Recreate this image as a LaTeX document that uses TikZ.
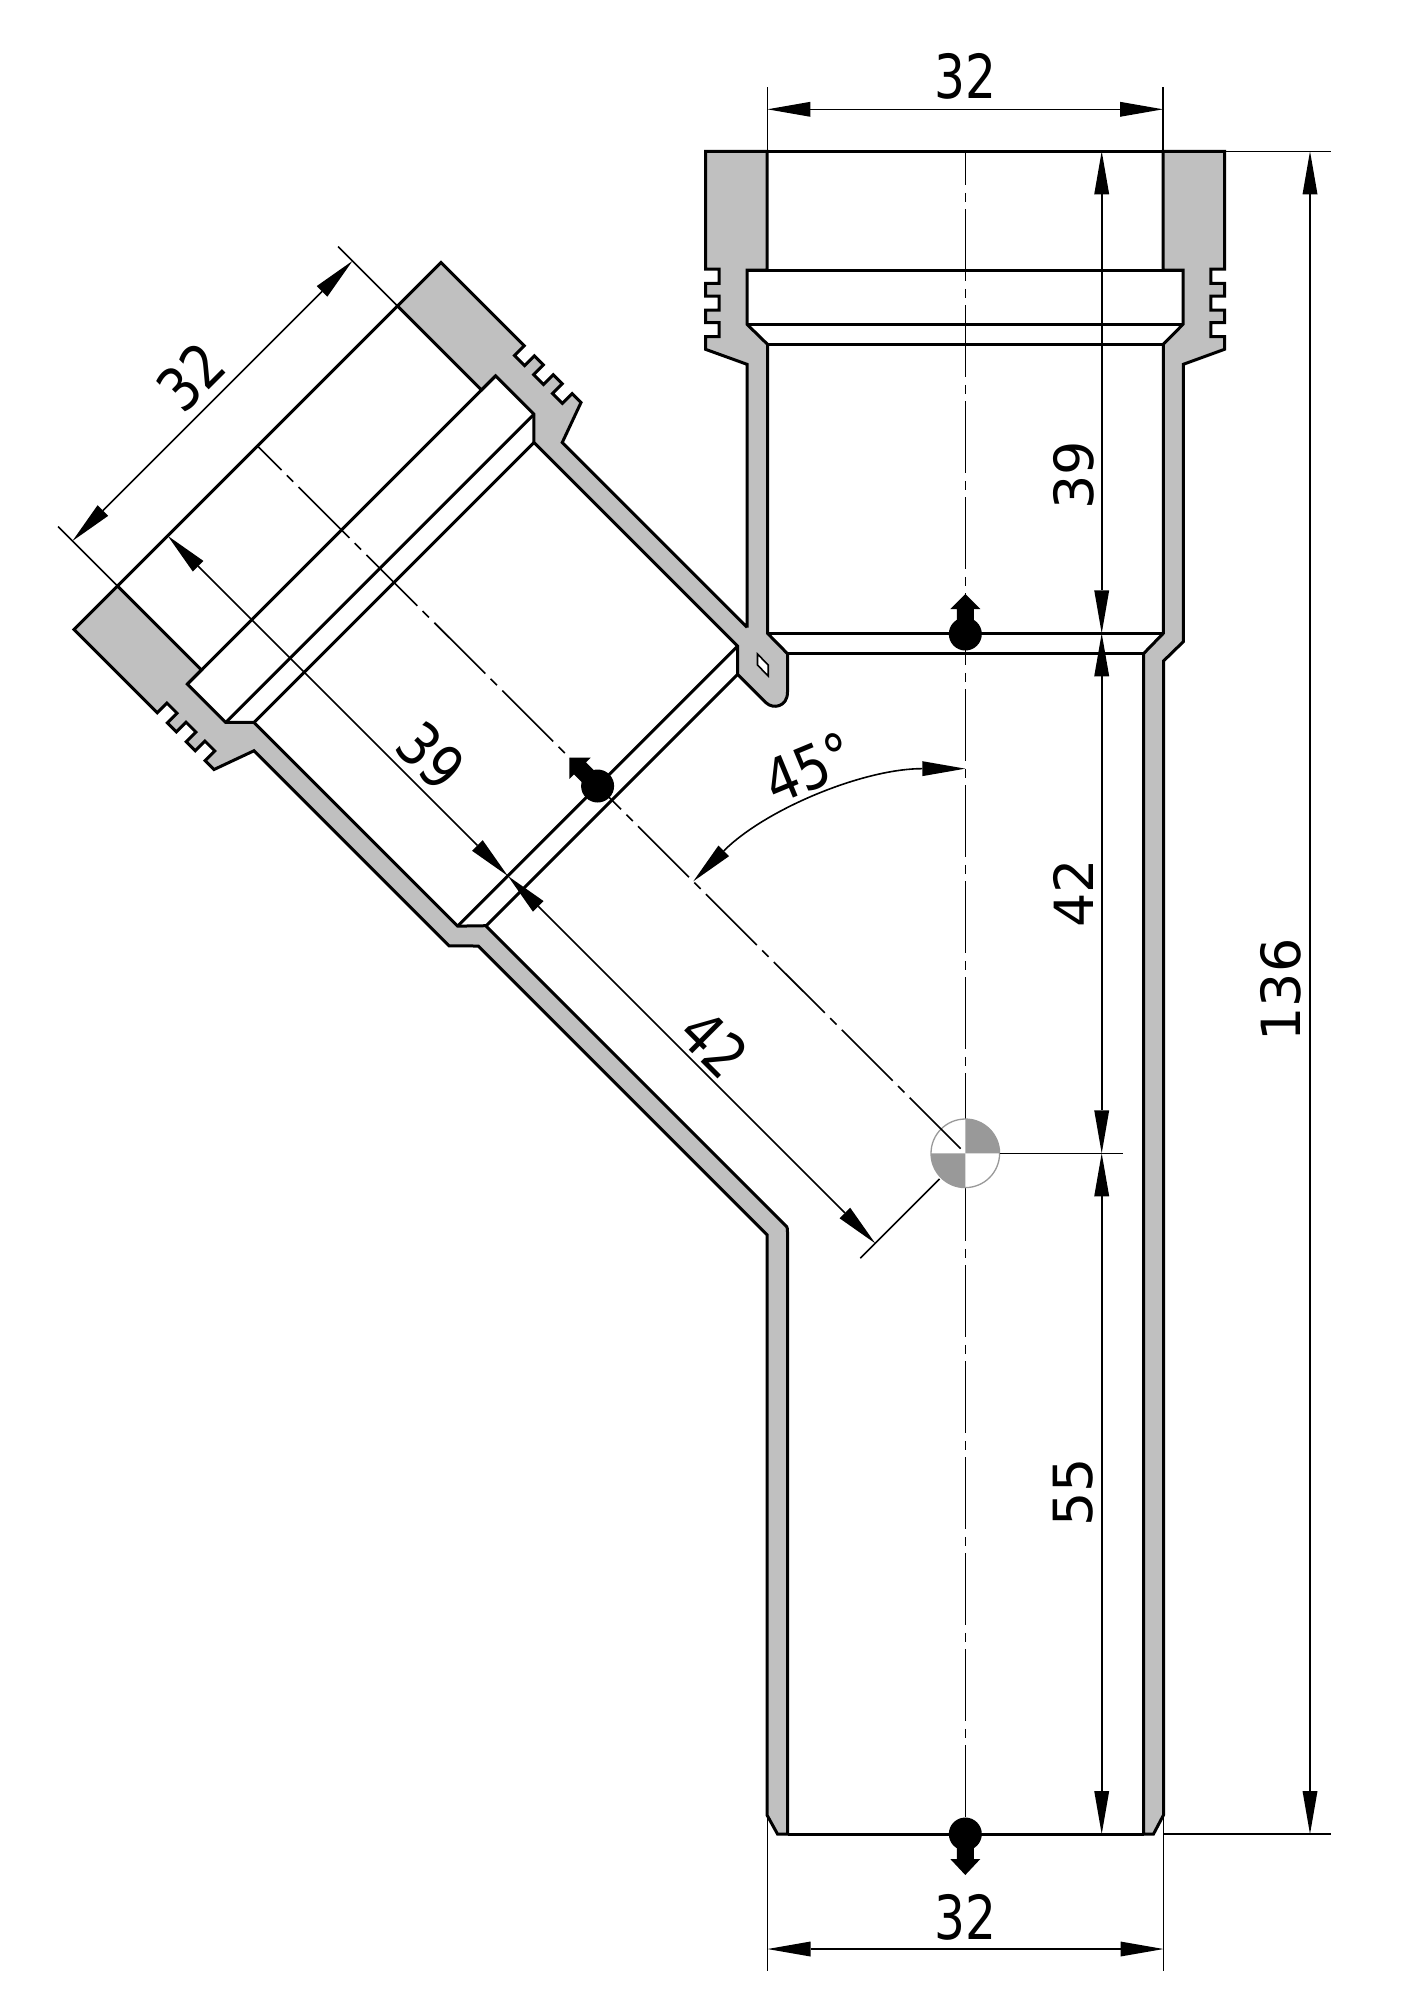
\documentclass[tikz,border=0pt]{standalone}
\usepackage{graphicx}
\usepackage{fontspec}
\setmainfont{DejaVu Sans}
\usetikzlibrary{arrows.meta}
\definecolor{wall}{HTML}{C0C0C0}
\definecolor{quart}{HTML}{999999}
\tikzset{
  br/.style={shift={(257.5,446)},rotate=45},
  wallp/.style={fill=wall,draw=black,line width=3pt,line join=miter},
  edge/.style={draw=black,line width=3pt},
  thin line/.style={draw=black,line width=1.6pt},
  dimline/.style={draw=black,line width=1.6pt,{Triangle[length=43pt,width=15pt,line width=0pt]}-{Triangle[length=43pt,width=15pt,line width=0pt]}},
  cen/.style={draw=black,line width=1.6pt,dash pattern=on 72pt off 7.5pt on 9pt off 7.5pt,dash phase=38pt},
  lab/.style={inner sep=0pt,font=\fontsize{54pt}{60pt}\selectfont},
  ballp/.style={fill=black,draw=none}
}
\begin{document}
\begin{tikzpicture}[x=1pt,y=-1pt]
\useasboundingbox (0,0) rectangle (1414,2000);
% right wall with socket
\path[wallp] (1163,151.3) -- (1224.5,151.3) -- (1224.5,269) -- (1210.8,269) -- (1210.8,283.3) -- (1224.5,283.3) -- (1224.5,296) -- (1210.8,296) -- (1210.8,310) -- (1224.5,310) -- (1224.5,322.7) -- (1210.8,322.7) -- (1210.8,336.7) -- (1224.5,336.7) -- (1224.5,349.3) -- (1183.3,364.3) -- (1183.3,641.7) -- (1163.5,661) -- (1163.5,1815) -- (1153.5,1834) -- (1143.5,1834) -- (1143.5,653.7) -- (1163.3,633.3) -- (1163.3,344.3) -- (1183,324.3) -- (1183,270) -- (1163,270) -- cycle;
% left upper wall, branch upper wall and rib
\path[wallp] (767,151.3) -- (705.5,151.3) -- (705.5,269) -- (719.2,269) -- (719.2,283.3) -- (705.5,283.3) -- (705.5,296) -- (719.2,296) -- (719.2,310) -- (705.5,310) -- (705.5,322.7) -- (719.2,322.7) -- (719.2,336.7) -- (705.5,336.7) -- (705.5,349.3) -- (747,364.3) -- (747,627.5)
 -- ([br]218,474.3) -- ([br]218,213) -- ([br]259.5,198) -- ([br]259.5,185.4) -- ([br]245.8,185.4) -- ([br]245.8,171.4) -- ([br]259.5,171.4) -- ([br]259.5,158.7) -- ([br]245.8,158.7) -- ([br]245.8,144.7) -- ([br]259.5,144.7) -- ([br]259.5,132) -- ([br]245.8,132) -- ([br]245.8,117.7) -- ([br]259.5,117.7) -- ([br]259.5,0) -- ([br]198,0) -- ([br]198,118.7) -- ([br]218,118.7) -- ([br]218,173) -- ([br]198,193) -- ([br]198,481) -- (737.6,674.3)
 -- (766,702.7) .. controls (773,709.5) and (787.5,707) .. (787.5,692) -- (787.5,653.7) -- (767.5,633.3) -- (767.5,344.3) -- (747,324.3) -- (747,270) -- (767,270) -- cycle;
% branch lower wall and lower pipe wall
\path[wallp] ([br]-198,0) -- ([br]-259.5,0) -- ([br]-259.5,117.7) -- ([br]-245.8,117.7) -- ([br]-245.8,132) -- ([br]-259.5,132) -- ([br]-259.5,144.7) -- ([br]-245.8,144.7) -- ([br]-245.8,158.7) -- ([br]-259.5,158.7) -- ([br]-259.5,171.4) -- ([br]-245.8,171.4) -- ([br]-245.8,185.4) -- ([br]-259.5,185.4) -- ([br]-259.5,198) -- ([br]-218,213) -- ([br]-218,489) -- (478.3,946) -- (767,1234.7) -- (767,1815) -- (777.5,1834) -- (787.5,1834) -- (787.5,1232) .. controls (787.5,1229.5) and (787.5,1228) .. (786.7,1226.7) -- (485.7,925.7) -- ([br]-198,481) -- ([br]-198,193) -- ([br]-218,173) -- ([br]-218,118.7) -- ([br]-198,118.7) -- cycle;
% rib slot
\path[fill=white,draw=black,line width=1.6pt] (757.5,654) -- (768.2,665) -- (768.2,676) -- (757.5,665) -- cycle;
% cross lines, main pipe
\path[edge] (767,151.3) -- (1163,151.3);
\path[edge] (747,270) -- (1183,270);
\path[edge] (747,324.3) -- (1183,324.3);
\path[edge] (767.5,344.3) -- (1163.3,344.3);
\path[edge] (767.5,633.3) -- (1163.3,633.3);
\path[edge] (787.5,653.7) -- (1143.5,653.7);
\path[edge] (787.5,1834) -- (1143.5,1834);
% cross lines, branch
\path[edge] ([br]-198,0) -- ([br]198,0);
\path[edge] ([br]-218,118.7) -- ([br]218,118.7);
\path[edge] ([br]-218,173) -- ([br]218,173);
\path[edge] ([br]-198,193) -- ([br]198,193);
\path[edge] ([br]-198,481) -- ([br]198,481);
\path[edge] ([br]-178.5,501) -- ([br]178.5,501);
% centre lines and datum symbol
\path[cen] (965.3,151.3) -- (965.3,1834);
\path[fill=white] (965.3,1153.3) circle[radius=34.3pt];
\path[fill=quart] (965.3,1153.3) -- (999.6,1153.3) arc[start angle=0,end angle=90,radius=34.3pt] -- cycle;
\path[fill=quart] (965.3,1153.3) -- (931,1153.3) arc[start angle=180,end angle=270,radius=34.3pt] -- cycle;
\path[draw=quart,line width=1.3pt] (965.3,1153.3) circle[radius=34.3pt];
\path[cen] (257.5,446) -- (965.3,1153.3);
% extension lines
\path[thin line] (767.4,87.3) -- (767.4,151.3);
\path[thin line] (1163,87.3) -- (1163,151.3);
\path[thin line] (1224.5,151.3) -- (1331,151.3);
\path[thin line] (1163.5,1834) -- (1331,1834);
\path[thin line] (767.5,1815) -- (767.5,1971);
\path[thin line] (1163.5,1815) -- (1163.5,1971);
\path[thin line] (999.6,1153.3) -- (1123,1153.3);
\path[thin line] ([br]-198,0) -- ([br]-198,-84);
\path[thin line] ([br]198,0) -- ([br]198,-84);
\path[thin line] ([br]-36,1000.6) -- ([br]-148,1000.6);
% dimension lines
\path[dimline] (767.4,109.3) -- (1163,109.3);
\path[dimline] (767.5,1949) -- (1163.5,1949);
\path[dimline] (1101.7,151.3) -- (1101.7,633.3);
\path[dimline] (1101.7,633.3) -- (1101.7,1153.3);
\path[dimline] (1101.7,1153.3) -- (1101.7,1834);
\path[dimline] (1310,151.3) -- (1310,1834);
\path[dimline] ([br]-198,-63.7) -- ([br]198,-63.7);
\path[dimline] ([br]-127,0) -- ([br]-127,481);
\path[dimline] ([br]-127,481) -- ([br]-127,1000.6);
\path[dimline] (693.3,881.3) arc[start angle=135,end angle=90,radius=384.6pt];
% position balls
\begin{scope}[shift={(965.3,634)}]
\path[ballp] (0,0) circle[radius=16.5pt];
\path[ballp] (-8.5,0) -- (-8.5,-25) -- (-15,-25) -- (0,-40) -- (15,-25) -- (8.5,-25) -- (8.5,0) -- cycle;
\end{scope}
\begin{scope}[shift={(965.3,1834)}]
\path[ballp] (0,0) circle[radius=16.5pt];
\path[ballp] (-8.5,0) -- (-8.5,25) -- (-15,25) -- (0,41) -- (15,25) -- (8.5,25) -- (8.5,0) -- cycle;
\end{scope}
\begin{scope}[shift={(597.6,786)},rotate=45]
\path[ballp] (0,0) circle[radius=16.5pt];
\path[ballp] (-8.5,0) -- (-8.5,-25) -- (-15,-25) -- (0,-40) -- (15,-25) -- (8.5,-25) -- (8.5,0) -- cycle;
\end{scope}
% labels
\node[lab] (t32) at (965,76.5) {\scalebox{.9}[1.125]{32}};
\node[lab] (b32) at (965,1917) {\scalebox{.9}[1.125]{32}};
\node[lab,rotate=90] (v39) at (1073.5,475.5) {39};
\node[lab,rotate=90] (v42) at (1073.5,893) {42};
\node[lab,rotate=90] (v55) at (1073.5,1492) {55};
\node[lab,rotate=90] (v136) at (1280.5,990) {136};
\node[lab,rotate=45] (d32) at (191,377) {\scalebox{.95}[1.12]{32}};
\node[lab,rotate=-45] (d39) at (431,756) {\scalebox{.95}[1.12]{39}};
\node[lab,rotate=-45] (d42) at (714,1044) {\scalebox{.95}[1.12]{42}};
\node[lab,rotate=22.5] (a45) at (809,768) {\scalebox{.95}[1.12]{45°}};
\end{tikzpicture}
\end{document}
